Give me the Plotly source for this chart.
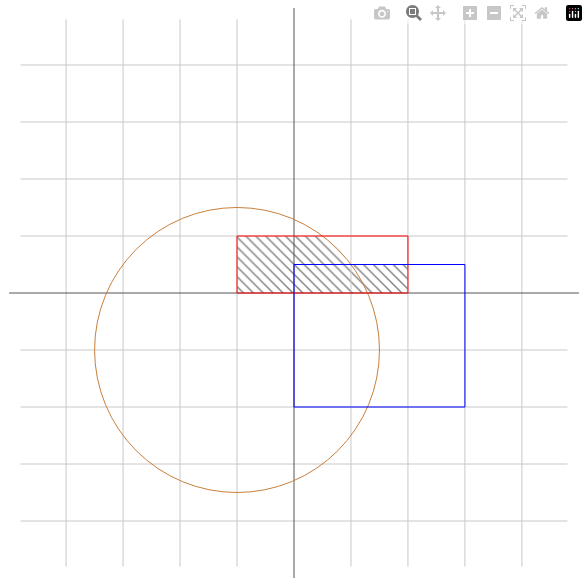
import numpy as np
import plotly.graph_objects as go

grid_vals = [-4, -3, -2, -1, 1, 2, 3, 4]
circle_center = (-1, -1)
circle_r = 2.5
red_rect = (-1, 0, 2, 1)
blue_rect = (0, -2, 3, 0.5)

fig = go.Figure()
shapes = []
for g in grid_vals:
    shapes.append(dict(type="line", x0=g, x1=g, y0=-4.8, y1=4.8, line=dict(color="#c8c8c8", width=1)))
    shapes.append(dict(type="line", y0=g, y1=g, x0=-4.8, x1=4.8, line=dict(color="#c8c8c8", width=1)))
shapes.append(dict(type="line", x0=-5, x1=5, y0=0, y1=0, line=dict(color="#555", width=1)))
shapes.append(dict(type="line", y0=-5, y1=5, x0=0, x1=0, line=dict(color="#555", width=1)))

# hatched region: union of (red ∩ circle) and (red ∩ blue)
cx, cy = circle_center
ys = np.linspace(0.5, 1, 30)
arc_x = cx + np.sqrt(circle_r**2 - (ys - cy)**2)
px = [-1, 2, 2] + list(arc_x) + [-1, -1]
py = [0, 0, 0.5] + list(ys) + [1, 0]
fig.add_trace(go.Scatter(x=px, y=py, fill="toself", mode="lines", line=dict(width=0),
                         fillcolor="rgba(0,0,0,0)",
                         fillpattern=dict(shape="\\", fgcolor="black", bgcolor="white", size=7, solidity=0.2),
                         hoverinfo="skip", showlegend=False))

shapes.append(dict(type="circle", x0=cx - circle_r, x1=cx + circle_r, y0=cy - circle_r, y1=cy + circle_r,
                   line=dict(color="#c87f3c", width=1)))
shapes.append(dict(type="rect", x0=red_rect[0], y0=red_rect[1], x1=red_rect[2], y1=red_rect[3],
                   line=dict(color="red", width=1)))
shapes.append(dict(type="rect", x0=blue_rect[0], y0=blue_rect[1], x1=blue_rect[2], y1=blue_rect[3],
                   line=dict(color="blue", width=1)))

fig.update_layout(width=588, height=586, margin=dict(l=0, r=0, t=0, b=0),
                  plot_bgcolor="white", paper_bgcolor="white", shapes=shapes)
fig.update_xaxes(range=[-5.16, 5.16], visible=False)
fig.update_yaxes(range=[-5.14, 5.14], visible=False)
fig.write_html("out.html", post_script="document.body.style.margin='0';document.body.style.overflow='hidden';")
